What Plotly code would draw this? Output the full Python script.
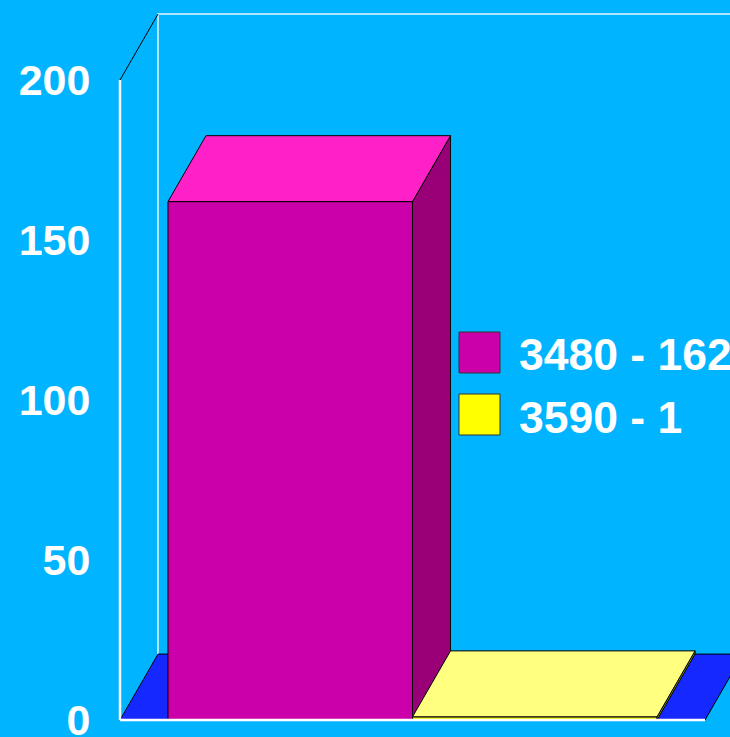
import plotly.graph_objects as go

# ---- data ----
series_names = ["3480", "3590"]
series_values = [162, 1]
y_ticks = [0, 50, 100, 150, 200]

# ---- style / geometry (data units) ----
BG = "#00B4FF"
front_cols = ["#CC00AA", "#E8E800"]
top_cols = ["#FF20C8", "#FFFF80"]
side_cols = ["#990077", "#A09A00"]
legend_cols = ["#CC00AA", "#FFFF00"]
FLOOR = "#1428FF"

gap = 0.082          # gap before first bar / after last bar (category width = 1)
bar_w = (1 - 2 * gap) / len(series_values)
dx = 0.065           # depth offset in x units
dy = 20.6            # depth offset in y units
ymax = 200

fig = go.Figure()

def poly(xs, ys, fill, line="black", lw=1):
    fig.add_trace(go.Scatter(x=xs + [xs[0]], y=ys + [ys[0]], mode="lines", fill="toself",
                             fillcolor=fill, line=dict(color=line, width=lw),
                             hoverinfo="skip", showlegend=False))

def seg(xs, ys, color, lw):
    fig.add_trace(go.Scatter(x=xs, y=ys, mode="lines", line=dict(color=color, width=lw),
                             hoverinfo="skip", showlegend=False))

# back wall lines
seg([dx, dx, 2.0], [dy, ymax + dy, ymax + dy], "#E8F6FF", 1.5)
# floor
poly([0, 1, 1 + dx, dx], [0, 0, dy, dy], FLOOR)

# bars
for i, v in enumerate(series_values):
    x0 = gap + i * bar_w
    x1 = x0 + bar_w
    poly([x0, x1, x1, x0], [0, 0, v, v], front_cols[i])
    poly([x1, x1 + dx, x1 + dx, x1], [0, dy, v + dy, v], side_cols[i])
    poly([x0, x0 + dx, x1 + dx, x1], [v, v + dy, v + dy, v], top_cols[i])

# front axis lines
seg([0, 0], [ymax, 0], "white", 2.5)
seg([0, 1], [0, 0], "white", 2.5)
seg([0, dx], [ymax, ymax + dy], "black", 1)

W, H = 730, 737
L = 100
fig.update_layout(
    width=W, height=H, template="none",
    margin=dict(l=L, r=0, t=0, b=0),
    paper_bgcolor=BG, plot_bgcolor=BG,
    showlegend=False,
    xaxis=dict(range=[-20 / 585, 610 / 585], visible=False, automargin=False, fixedrange=True),
    yaxis=dict(range=[-5.3125, 225], tickvals=y_ticks, ticktext=[str(t) for t in y_ticks],
               showgrid=False, zeroline=False, showline=False, automargin=False,
               ticks="outside", ticklen=0, tickcolor=BG, ticklabeloverflow="allow",
               tickfont=dict(family="Liberation Sans, Arial", size=43, color="white", weight="bold")),
)

# legend (manual, large keys)
def px_x(p):
    return (p - L) / (W - L)

def px_y(p):
    return 1 - p / H

leg_tops = [332, 394]
for i, name in enumerate(series_names):
    t = leg_tops[i]
    fig.add_shape(type="rect", xref="paper", yref="paper",
                  x0=px_x(459), x1=px_x(500), y0=px_y(t + 41), y1=px_y(t),
                  fillcolor=legend_cols[i], line=dict(color="#333333", width=1))
    fig.add_annotation(xref="paper", yref="paper", x=px_x(517), y=px_y(t + 23),
                       xanchor="left", yanchor="middle", showarrow=False,
                       text=f"{name} - {series_values[i]}",
                       font=dict(family="Liberation Sans, Arial", size=44.5, color="white", weight="bold"))

fig.write_html("out.html", config={"displayModeBar": False},
               post_script="document.body.style.margin='0';document.body.style.overflow='hidden';")
